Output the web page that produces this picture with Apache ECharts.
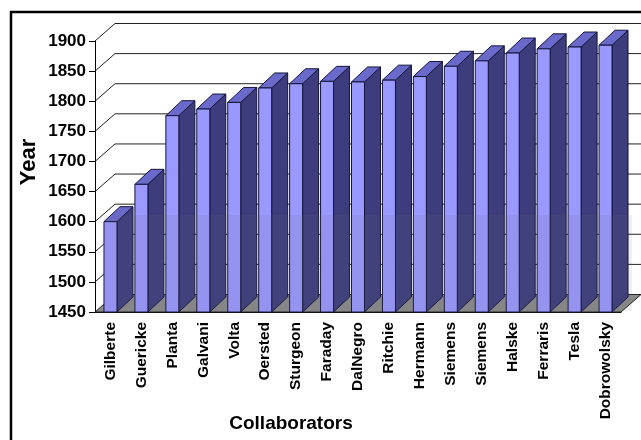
<!DOCTYPE html>
<html>
<head>
<meta charset="utf-8">
<script src="https://cdn.jsdelivr.net/npm/echarts@6/dist/echarts.min.js"></script>
<style>
    html, body { margin: 0; padding: 0; background: #fff; }
    #main { width: 641px; height: 440px; }
</style>
</head>
<body>
<div id="main"></div>
<script>
var collaborators = ['Gilberte', 'Guericke', 'Planta', 'Galvani', 'Volta', 'Oersted', 'Sturgeon',
    'Faraday', 'DalNegro', 'Ritchie', 'Hermann', 'Siemens', 'Siemens', 'Halske', 'Ferraris',
    'Tesla', 'Dobrowolsky'];
var years = [1600, 1662, 1776, 1787, 1798, 1822, 1829, 1833, 1832, 1835, 1841, 1858, 1867,
    1880, 1887, 1890, 1893];
var yearTicks = [1450, 1500, 1550, 1600, 1650, 1700, 1750, 1800, 1850, 1900];

// fake 3d depth (pixels)
var WALL_DX = 20, WALL_DY = -17.5;
var BAR_DX = 16, BAR_DY = -15;
var EDGE = '#14143c';

var chartDom = document.getElementById('main');
var myChart = echarts.init(chartDom);
var option;

function renderWall(params, api) {
    var cs = params.coordSys;
    var v = api.value(1);
    var y = api.coord([0, v])[1];
    var x0 = cs.x, x1 = cs.x + cs.width;
    if (v === yearTicks[0]) {
        // floor
        return {
            type: 'polygon',
            shape: { points: [[x0, y], [x1, y], [x1 + WALL_DX, y + WALL_DY], [x0 + WALL_DX, y + WALL_DY]] },
            style: { fill: '#8a8a8a', stroke: '#222', lineWidth: 1 }
        };
    }
    return {
        type: 'polyline',
        shape: { points: [[x0, y], [x0 + WALL_DX, y + WALL_DY], [x1 + WALL_DX, y + WALL_DY]] },
        style: { fill: null, stroke: '#222', lineWidth: 1 }
    };
}

function renderBar(params, api) {
    var i = api.value(0);
    var top = api.coord([i, api.value(1)]);
    var base = api.coord([i, yearTicks[0]]);
    var bw = api.size([1, 0])[0] * 0.42;
    var xa = top[0] - bw / 2, xb = top[0] + bw / 2;
    var yt = top[1], yb = base[1];
    return {
        type: 'group',
        children: [
            {
                type: 'polygon',
                shape: { points: [[xb, yt], [xb + BAR_DX, yt + BAR_DY], [xb + BAR_DX, yb + BAR_DY], [xb, yb]] },
                style: { fill: '#3d3d7d', stroke: EDGE, lineWidth: 1 }
            },
            {
                type: 'polygon',
                shape: { points: [[xa, yt], [xb, yt], [xb + BAR_DX, yt + BAR_DY], [xa + BAR_DX, yt + BAR_DY]] },
                style: { fill: '#6a6acb', stroke: EDGE, lineWidth: 1 }
            },
            {
                type: 'rect',
                shape: { x: xa, y: yt, width: bw, height: yb - yt },
                style: { fill: '#9999ff', stroke: EDGE, lineWidth: 1 }
            }
        ]
    };
}

option = {
    animation: false,
    backgroundColor: '#fff',
    grid: { left: 95, right: 20, top: 41, bottom: 128 },
    xAxis: {
        type: 'category',
        data: collaborators,
        axisLine: { lineStyle: { color: '#000', width: 1 } },
        axisTick: { show: false },
        axisLabel: {
            rotate: 90, margin: 10, interval: 0,
            fontFamily: 'Liberation Sans', fontWeight: 'bold', fontSize: 15.5, color: '#000'
        }
    },
    yAxis: {
        type: 'value',
        min: 1450, max: 1900, interval: 50,
        axisLine: { show: true, lineStyle: { color: '#000', width: 1 } },
        axisTick: { show: true, length: 6, lineStyle: { color: '#000' } },
        splitLine: { show: false },
        axisLabel: {
            margin: 9,
            formatter: function (v) { return String(v); },
            fontFamily: 'Liberation Sans', fontWeight: 'bold', fontSize: 17, color: '#000'
        }
    },
    graphic: [
        {
            type: 'rect', silent: true, z: 100,
            shape: { x: 11, y: 12, width: 700, height: 500 },
            style: { fill: null, stroke: '#000', lineWidth: 2.5 }
        },
        {
            // faint grey band over the lower part of the bars
            type: 'rect', silent: true, z: 50,
            shape: { x: 104, y: 215, width: 528, height: 96 },
            style: { fill: 'rgba(110,110,110,0.1)' }
        },
        {
            type: 'text', x: 29, y: 162, rotation: Math.PI / 2,
            style: {
                text: 'Year', align: 'center', verticalAlign: 'middle',
                font: 'bold 22px "Liberation Sans"', fill: '#000'
            }
        },
        {
            type: 'text', x: 291, y: 424,
            style: {
                text: 'Collaborators', align: 'center', verticalAlign: 'middle',
                font: 'bold 19px "Liberation Sans"', fill: '#000'
            }
        }
    ],
    series: [
        {
            type: 'custom',
            z: 1,
            renderItem: renderWall,
            data: yearTicks.map(function (v) { return [0, v]; })
        },
        {
            type: 'custom',
            z: 2,
            renderItem: renderBar,
            data: years.map(function (v, i) { return [i, v]; })
        }
    ]
};

option && myChart.setOption(option);
</script>
</body>
</html>
